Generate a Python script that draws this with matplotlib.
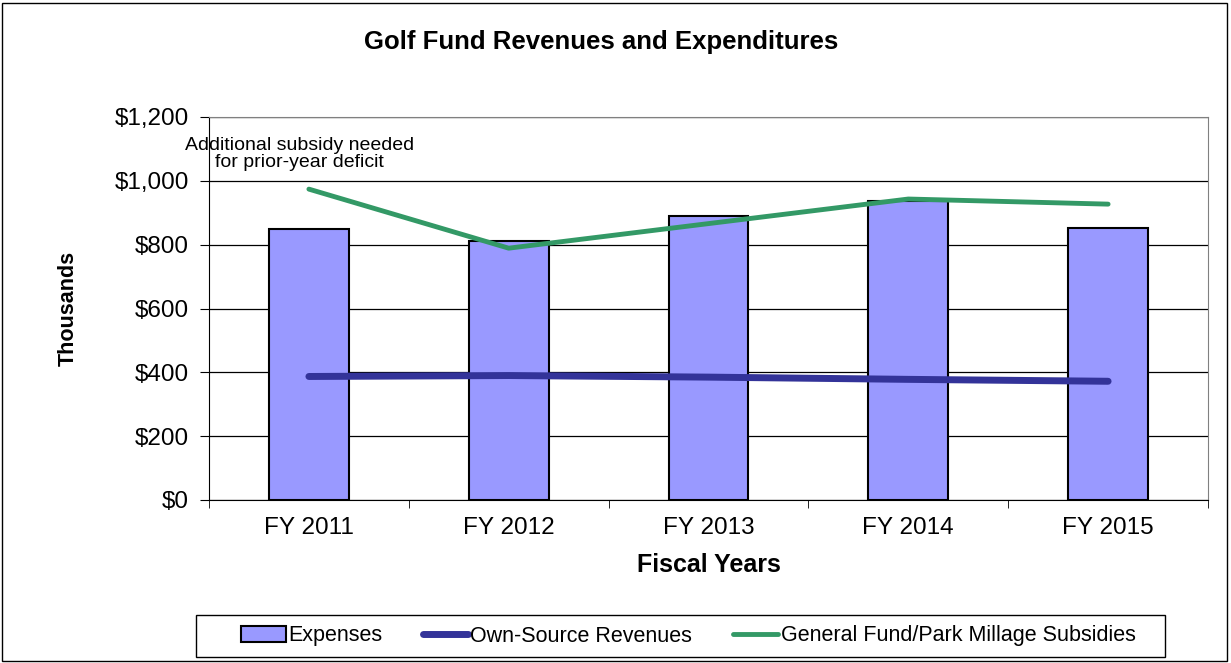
import matplotlib
matplotlib.use("Agg")
import matplotlib.pyplot as plt
from matplotlib.patches import Rectangle
import numpy as np

plt.rcParams['font.family'] = ['Liberation Sans', 'DejaVu Sans']

years = ["FY 2011", "FY 2012", "FY 2013", "FY 2014", "FY 2015"]
expenses = [848, 810, 891, 938, 853]
own_source = [387, 390, 385, 378, 372]
subsidies = [974, 789, 866, 943, 927]
yticks = [0, 200, 400, 600, 800, 1000, 1200]
ytick_labels = ["$0", "$200", "$400", "$600", "$800", "$1,000", "$1,200"]

W, H = 1231, 663
fig = plt.figure(figsize=(W / 100, H / 100), dpi=100)
ax = fig.add_axes([209 / W, 1 - 500 / H, (1208 - 209) / W, (500 - 117) / H])

x = np.arange(len(years))
bars = ax.bar(x, expenses, width=0.4, color="#9999FF", edgecolor="black", linewidth=1.5,
              label="Expenses", zorder=2)
line_own, = ax.plot(x, own_source, color="#333399", linewidth=5, solid_capstyle="round",
                    label="Own-Source Revenues", zorder=3)
line_sub, = ax.plot(x, subsidies, color="#339966", linewidth=3.5, solid_capstyle="round",
                    label="General Fund/Park Millage Subsidies", zorder=3)

ax.set_xlim(-0.5, len(years) - 0.5)
ax.set_ylim(0, 1200)
ax.set_yticks(yticks)
ax.set_yticklabels(ytick_labels, fontsize=17.5)
ax.set_xticks(x)
ax.set_xticklabels(years, fontsize=17.5)
ax.set_xticks(np.arange(-0.5, len(years) + 0.5, 1), minor=True)
ax.tick_params(axis="x", which="major", length=0, pad=12)
ax.tick_params(axis="x", which="minor", length=6, direction="out", color="black")
ax.tick_params(axis="y", length=6.5, direction="out", pad=8)
ax.grid(axis="y", color="black", linewidth=0.9, zorder=0)
ax.set_axisbelow(True)
for side in ("top", "right"):
    ax.spines[side].set_color("#808080")
for side in ("left", "bottom"):
    ax.spines[side].set_color("black")

ax.set_ylabel("Thousands", fontsize=15.5, fontweight="bold", labelpad=26)
ax.set_xlabel("Fiscal Years", fontsize=18, fontweight="bold", labelpad=10)

ax.text(-0.045, 1084, "Additional subsidy needed\nfor prior-year deficit",
        ha="center", va="center", fontsize=14, linespacing=1.05)

fig.text(601 / W, 1 - 42 / H, "Golf Fund Revenues and Expenditures",
         ha="center", va="center", fontsize=18.5, fontweight="bold")

# Legend entries without their own frame; a fixed box is drawn around them
leg = fig.legend([bars, line_own, line_sub],
                 ["Expenses", "Own-Source Revenues", "General Fund/Park Millage Subsidies"],
                 loc="center", bbox_to_anchor=(688 / W, 1 - 636 / H), ncol=3,
                 fontsize=15.5, frameon=False,
                 handlelength=2.1, handletextpad=0.1, columnspacing=1.9)
fig.patches.append(Rectangle((196 / W, 1 - 657 / H), (1165 - 196) / W, 42 / H,
                             transform=fig.transFigure, fill=False,
                             edgecolor="black", linewidth=1.0))

# Outer chart border
fig.patches.append(Rectangle((2 / W, 2 / H), 1225 / W, 658 / H,
                             transform=fig.transFigure, fill=False,
                             edgecolor="black", linewidth=1.0))

fig.savefig("out.png", dpi=100)
